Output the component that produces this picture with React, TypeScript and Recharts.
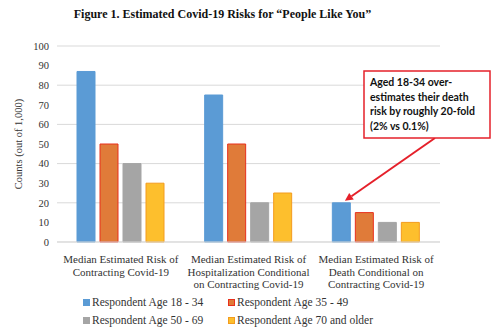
import { Bar, BarChart, CartesianGrid, Legend, XAxis, YAxis } from "recharts";

const CATEGORIES = ["Contracting", "Hospitalization", "Death"];
const CATEGORY_LINES = [
  ["Median Estimated Risk of", "Contracting Covid-19"],
  ["Median Estimated Risk of", "Hospitalization Conditional", "on Contracting Covid-19"],
  ["Median Estimated Risk of", "Death Conditional on", "Contracting Covid-19"],
];
const AGE_18_34 = [87, 75, 20];
const AGE_35_49 = [50, 50, 15];
const AGE_50_69 = [40, 20, 10];
const AGE_70_UP = [30, 25, 10];
const Y_TICKS = [0, 10, 20, 30, 40, 50, 60, 70, 80, 90, 100];

const SERIES = [
  { key: "a", name: "Respondent Age 18 - 34", fill: "#5b9bd5", stroke: "#5b9bd5" },
  { key: "b", name: "Respondent Age 35 - 49", fill: "#e07b39", stroke: "#e8301c" },
  { key: "c", name: "Respondent Age 50 - 69", fill: "#a5a5a5", stroke: "#a5a5a5" },
  { key: "d", name: "Respondent Age 70 and older", fill: "#fdbf2d", stroke: "#f39c1e" },
];

const data = CATEGORIES.map((cat, i) => ({
  cat,
  a: AGE_18_34[i],
  b: AGE_35_49[i],
  c: AGE_50_69[i],
  d: AGE_70_UP[i],
}));

const SERIF = "'Liberation Serif', 'Times New Roman', serif";

function CategoryTick(props: any) {
  const { x, y, payload } = props;
  const lines = CATEGORY_LINES[payload.index] ?? [payload.value];
  return (
    <text x={x} y={y} textAnchor="middle" fontFamily={SERIF} fontSize={11} fill="#333">
      {lines.map((line, i) => (
        <tspan key={i} x={x} dy={i === 0 ? 13 : 12.7}>
          {line}
        </tspan>
      ))}
    </text>
  );
}

function CalloutLabel(props: any) {
  const { x, y, width, index } = props;
  if (index !== 2) return null;
  const tipX = x + width * 0.7;
  const tipY = y - 2;
  const boxX = 364;
  const boxY = 71;
  const fromX = 435;
  const fromY = 138;
  const ang = Math.atan2(tipY - fromY, tipX - fromX);
  const hl = 8;
  const hw = 4;
  const bx = tipX - hl * Math.cos(ang);
  const by = tipY - hl * Math.sin(ang);
  const p1 = `${bx + hw * Math.sin(ang)},${by - hw * Math.cos(ang)}`;
  const p2 = `${bx - hw * Math.sin(ang)},${by + hw * Math.cos(ang)}`;
  const lines = ["Aged 18-34 over-", "estimates their death", "risk by roughly 20-fold", "(2% vs 0.1%)"];
  return (
    <g>
      <line x1={fromX} y1={fromY} x2={bx} y2={by} stroke="#e5202a" strokeWidth={2} />
      <polygon points={`${tipX},${tipY} ${p1} ${p2}`} fill="#e5202a" />
      <rect x={boxX} y={boxY} width={126} height={67} fill="#fff" stroke="#e5202a" strokeWidth={1.5} />
      <text x={boxX + 6} y={boxY} fontFamily="Lato, sans-serif" fontWeight={700} fontSize={10.5} fill="#111">
        {lines.map((l, i) => (
          <tspan key={i} x={boxX + 6} dy={i === 0 ? 15 : 14.5}>
            {l}
          </tspan>
        ))}
      </text>
    </g>
  );
}

function LegendContent() {
  return (
    <div
      style={{
        display: "grid",
        gridTemplateColumns: "145px 170px",
        paddingLeft: 83,
        paddingTop: 4,
        rowGap: 4,
        fontFamily: SERIF,
        fontSize: 11.5,
        color: "#333",
        textAlign: "left",
      }}
    >
      {SERIES.map((s) => (
        <div key={s.key} style={{ display: "flex", alignItems: "center", height: 14 }}>
          <span
            style={{
              width: 5,
              height: 5,
              background: s.fill,
              border: `1px solid ${s.stroke}`,
              marginRight: 2,
              display: "inline-block",
            }}
          />
          {s.name}
        </div>
      ))}
    </div>
  );
}

export default function App() {
  return (
    <div style={{ position: "absolute", left: 0, top: 0, width: 500, height: 331, background: "#fff" }}>
      <div
        style={{
          position: "absolute",
          top: 7,
          left: 0,
          width: 445,
          textAlign: "center",
          fontFamily: SERIF,
          fontWeight: 700,
          fontSize: 12,
          color: "#111",
        }}
      >
        Figure 1. Estimated Covid-19 Risks for “People Like You”
      </div>
      <BarChart
        width={500}
        height={331}
        data={data}
        margin={{ top: 46, right: 60, left: 0, bottom: 0 }}
        barSize={18}
        barGap={5}
      >
        <CartesianGrid vertical={false} stroke="#d9d9d9" />
        <XAxis
          dataKey="cat"
          height={49}
          axisLine={{ stroke: "#d9d9d9" }}
          tickLine={false}
          interval={0}
          tick={<CategoryTick />}
        />
        <YAxis
          width={57}
          domain={[0, 100]}
          ticks={Y_TICKS}
          axisLine={false}
          tickLine={false}
          tick={{ fontFamily: SERIF, fontSize: 10.5, fill: "#333" }}
          label={{
            value: "Counts (out of 1,000)",
            angle: -90,
            position: "insideLeft",
            offset: 18,
            style: { textAnchor: "middle", fontFamily: SERIF, fontSize: 10.5, fill: "#333" },
          }}
        />
        <Legend verticalAlign="bottom" height={40} content={<LegendContent />} />
        {SERIES.map((s) => (
          <Bar
            key={s.key}
            dataKey={s.key}
            name={s.name}
            fill={s.fill}
            stroke={s.stroke}
            strokeWidth={1}
            isAnimationActive={false}
            label={s.key === "a" ? <CalloutLabel /> : undefined}
          />
        ))}
      </BarChart>
    </div>
  );
}
